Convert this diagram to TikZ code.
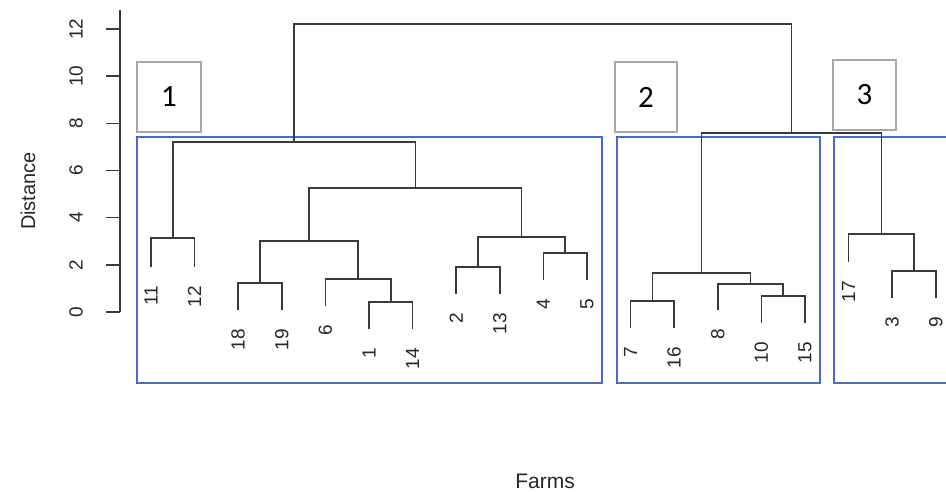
\documentclass[tikz,border=0pt]{standalone}
\usepackage{fontspec}
\setmainfont{Liberation Sans}
\newfontfamily\boxfont{Carlito}
\definecolor{dline}{HTML}{3A3A3A}
\definecolor{bluebox}{HTML}{4A6CC8}
\definecolor{graybox}{HTML}{A8A8A8}
\definecolor{txt}{HTML}{262626}
\begin{document}
\begin{tikzpicture}[x=1pt,y=-1pt,
  dend/.style={draw=dline,line width=1.6pt},
  clusterbox/.style={draw=bluebox,line width=1.4pt},
  numbox/.style={draw=graybox,line width=1.5pt,fill=white},
  numtext/.style={font=\boxfont\fontsize{31}{33}\selectfont,text=black},
  leaflab/.style={rotate=90,anchor=east,inner sep=0pt,font=\fontsize{19}{21}\selectfont,text=txt},
  ticklab/.style={rotate=90,anchor=center,inner sep=0pt,font=\fontsize{19}{21}\selectfont,text=txt},
  axtitle/.style={inner sep=0pt,text=txt}]
\useasboundingbox (0,0) rectangle (946,492);
\clip (0,0) rectangle (946,492);
\fill[white] (0,0) rectangle (946,492);

% axis
\draw[dline,line width=1.4pt] (120,10) -- (120,312);
\foreach \d in {0,2,...,12}{
  \draw[dline,line width=1.4pt] (106,{312-23.58*\d}) -- (120,{312-23.58*\d});
  \node[ticklab] (t\d) at (76,{312-23.58*\d}) {\d};
}
\node[axtitle,rotate=90,font=\fontsize{20}{22}\selectfont] (ytitle) at (28,191) {Distance};
\node[axtitle,font=\fontsize{21}{24}\selectfont] (xtitle) at (545,481) {Farms};

% cluster boxes
\draw[clusterbox] (137,137) rectangle (602,383);
\draw[clusterbox] (617,137) rectangle (820,383);
\draw[clusterbox] (834,137) rectangle (962,383);

% leaves: name/x/yend
\foreach \n/\x/\y in {11/151/267, 12/194.6/267, 18/238.2/310, 19/281.8/310, 6/325.4/306,
  1/369/329, 14/412.6/329, 2/456.2/294, 13/499.8/294, 4/543.4/280, 5/587/280,
  7/630.6/328, 16/674.2/328, 8/717.8/310, 10/761.4/323, 15/805/323,
  17/848.6/262, 3/892.2/298, 9/935.8/298}{
  \coordinate (L\n) at (\x,\y);
  \node[leaflab] (lab\n) at (\x,\y+19) {\n};
}

% merge points
\coordinate (m1112) at (172.8,238);
\coordinate (m1819) at (260,283);
\coordinate (m114) at (390.8,302);
\coordinate (m6) at (358.1,279);
\coordinate (ma) at (309,241);
\coordinate (m213) at (478,267);
\coordinate (m45) at (565.2,253);
\coordinate (mb) at (521.6,237);
\coordinate (mc) at (415.3,188);
\coordinate (c1) at (294,142);
\coordinate (m716) at (652.4,301);
\coordinate (m1015) at (783.2,296);
\coordinate (m8) at (750.5,284);
\coordinate (c2) at (701.5,273);
\coordinate (m39) at (914,271);
\coordinate (c3) at (881.3,234);
\coordinate (m23) at (791.4,133);
\coordinate (root) at (542.7,24);

\draw[dend] (L11) |- (m1112) -| (L12);
\draw[dend] (L18) |- (m1819) -| (L19);
\draw[dend] (L1) |- (m114) -| (L14);
\draw[dend] (L6) |- (m6) -| (m114);
\draw[dend] (m1819) |- (ma) -| (m6);
\draw[dend] (L2) |- (m213) -| (L13);
\draw[dend] (L4) |- (m45) -| (L5);
\draw[dend] (m213) |- (mb) -| (m45);
\draw[dend] (ma) |- (mc) -| (mb);
\draw[dend] (m1112) |- (c1) -| (mc);
\draw[dend] (L7) |- (m716) -| (L16);
\draw[dend] (L10) |- (m1015) -| (L15);
\draw[dend] (L8) |- (m8) -| (m1015);
\draw[dend] (m716) |- (c2) -| (m8);
\draw[dend] (L3) |- (m39) -| (L9);
\draw[dend] (L17) |- (c3) -| (m39);
\draw[dend] (c2) |- (m23) -| (c3);
\draw[dend] (c1) |- (root) -| (m23);

% number boxes
\node[numbox,minimum width=64pt,minimum height=70pt,inner sep=0pt] (b1) at (169,97) {};
\node[numtext] (n1) at (b1) {1};
\node[numbox,minimum width=62pt,minimum height=70pt,inner sep=0pt] (b2) at (646,97) {};
\node[numtext] (n2) at (b2) {2};
\node[numbox,minimum width=63pt,minimum height=70pt,inner sep=0pt] (b3) at (864.5,95) {};
\node[numtext] (n3) at (b3) {3};
\end{tikzpicture}
\end{document}
